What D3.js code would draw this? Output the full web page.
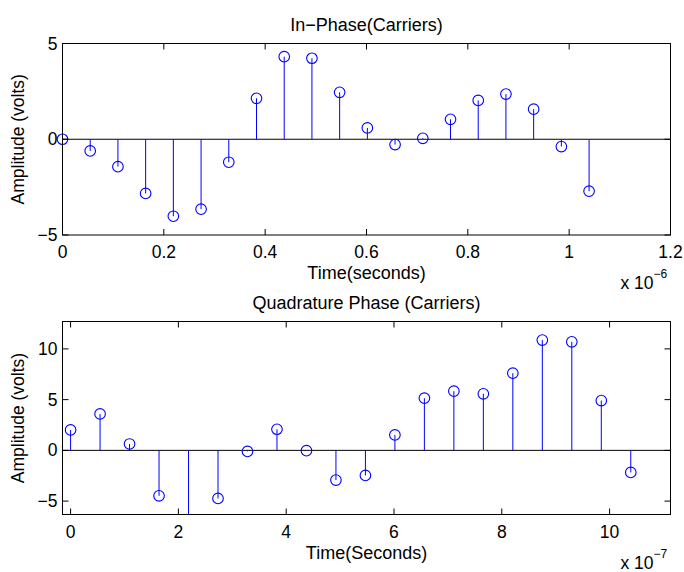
<!DOCTYPE html>
<html>
<head>
<meta charset="utf-8">
<title>In-Phase and Quadrature Phase Carriers</title>
<script src="https://d3js.org/d3.v7.min.js"></script>
<style>
  body { margin: 0; background: #fff; }
  text { font-family: "Liberation Sans", Arial, Helvetica, sans-serif; fill: #000; }
</style>
</head>
<body>
<div id="chart"></div>
<script>

// sample times in units of 1e-7 s (the top panel shows them in units of 1e-6 s)
var sampleTimes = [0, 0.547, 1.094, 1.641, 2.188, 2.735, 3.282, 3.829, 4.376, 4.923,
                   5.47, 6.017, 6.564, 7.111, 7.658, 8.205, 8.752, 9.299, 9.846, 10.393];

var inPhase = [0, -0.61, -1.43, -2.83, -4.02, -3.65, -1.2, 2.14, 4.31, 4.23,
               2.45, 0.59, -0.28, 0.05, 1.04, 2.03, 2.36, 1.57, -0.38, -2.71];

var quadrature = [2.01, 3.59, 0.63, -4.48, -7.5, -4.74, -0.1, 2.08, -0.03, -2.93,
                  -2.47, 1.52, 5.14, 5.83, 5.57, 7.61, 10.87, 10.7, 4.91, -2.17];

var topXTicks = [0, 0.2, 0.4, 0.6, 0.8, 1, 1.2];
var topYTicks = [-5, 0, 5];
var botXTicks = [0, 2, 4, 6, 8, 10];
var botYTicks = [-5, 0, 5, 10];

var W = 684, H = 572;
var blue = "#0000ff";

var svg = d3.select("#chart").append("svg")
    .attr("width", W)
    .attr("height", H);

svg.append("rect").attr("width", W).attr("height", H).attr("fill", "#fff");

function drawPanel(cfg) {
    var x = d3.scaleLinear().domain(cfg.xDomain).range([cfg.left, cfg.right]);
    var y = d3.scaleLinear().domain(cfg.yDomain).range([cfg.bottom, cfg.top]);
    var g = svg.append("g");

    var clipId = "clip" + cfg.id;
    svg.append("clipPath").attr("id", clipId)
        .append("rect")
        .attr("x", cfg.left).attr("y", cfg.top)
        .attr("width", cfg.right - cfg.left).attr("height", cfg.bottom - cfg.top);

    // zero baseline
    g.append("line")
        .attr("x1", cfg.left).attr("x2", cfg.right)
        .attr("y1", y(0)).attr("y2", y(0))
        .attr("stroke", "#000").attr("stroke-width", 1);

    var pts = cfg.xs.map(function(d, i) { return {x: d, y: cfg.ys[i]}; });

    // stems
    g.append("g").attr("clip-path", "url(#" + clipId + ")")
        .selectAll("line").data(pts).enter().append("line")
        .attr("x1", function(d) { return x(d.x); })
        .attr("x2", function(d) { return x(d.x); })
        .attr("y1", y(0))
        .attr("y2", function(d) { return y(d.y); })
        .attr("stroke", blue).attr("stroke-width", 1);

    // markers (only those inside the axes)
    g.selectAll("circle").data(pts.filter(function(d) {
            return d.y >= cfg.yDomain[0] && d.y <= cfg.yDomain[1];
        })).enter().append("circle")
        .attr("cx", function(d) { return x(d.x); })
        .attr("cy", function(d) { return y(d.y); })
        .attr("r", 5.3)
        .attr("fill", "none")
        .attr("stroke", blue).attr("stroke-width", 1.1);

    // box
    g.append("rect")
        .attr("x", cfg.left).attr("y", cfg.top)
        .attr("width", cfg.right - cfg.left).attr("height", cfg.bottom - cfg.top)
        .attr("fill", "none").attr("stroke", "#000").attr("stroke-width", 1);

    var tl = 6;
    // x ticks (bottom and top, inward)
    cfg.xTicks.forEach(function(t, i) {
        var px = x(t);
        g.append("line").attr("x1", px).attr("x2", px)
            .attr("y1", cfg.bottom).attr("y2", cfg.bottom - tl).attr("stroke", "#000");
        g.append("line").attr("x1", px).attr("x2", px)
            .attr("y1", cfg.top).attr("y2", cfg.top + tl).attr("stroke", "#000");
        g.append("text").attr("x", px).attr("y", cfg.bottom + 23)
            .attr("text-anchor", "middle")
            .style("font-size", "17.5px")
            .text(cfg.xTickLabels[i]);
    });
    // y ticks (left and right, inward)
    cfg.yTicks.forEach(function(t) {
        var py = y(t);
        g.append("line").attr("x1", cfg.left).attr("x2", cfg.left + tl)
            .attr("y1", py).attr("y2", py).attr("stroke", "#000");
        g.append("line").attr("x1", cfg.right).attr("x2", cfg.right - tl)
            .attr("y1", py).attr("y2", py).attr("stroke", "#000");
        g.append("text").attr("x", cfg.left - 5).attr("y", py + 6)
            .attr("text-anchor", "end")
            .style("font-size", "17.5px")
            .text(d3.format("")(t));
    });

    // title
    g.append("text")
        .attr("x", (cfg.left + cfg.right) / 2).attr("y", cfg.top - 13)
        .attr("text-anchor", "middle")
        .style("font-size", "18px")
        .text(cfg.title);

    // x label
    g.append("text")
        .attr("x", (cfg.left + cfg.right) / 2).attr("y", cfg.bottom + 44)
        .attr("text-anchor", "middle")
        .style("font-size", "18px")
        .text(cfg.xLabel);

    // y label
    g.append("text")
        .attr("transform", "translate(24," + ((cfg.top + cfg.bottom) / 2) + ") rotate(-90)")
        .attr("text-anchor", "middle")
        .style("font-size", "17.5px")
        .text("Amplitude (volts)");

    // exponent
    var ex = g.append("text")
        .attr("x", cfg.right - 50).attr("y", cfg.bottom + 54)
        .style("font-size", "17.5px");
    ex.append("tspan").text("x 10");
    ex.append("tspan").attr("dy", -11).style("font-size", "12px").text(cfg.exponent);
}

drawPanel({
    id: 1,
    left: 62.5, right: 670.5, top: 43.5, bottom: 235,
    xDomain: [0, 1.2], yDomain: [-5, 5],
    xs: sampleTimes.map(function(t) { return t / 10; }),
    ys: inPhase,
    xTicks: topXTicks,
    xTickLabels: topXTicks.map(function(t) { return String(t); }),
    yTicks: topYTicks,
    title: "In\u2212Phase(Carriers)",
    xLabel: "Time(seconds)",
    exponent: "\u22126"
});

drawPanel({
    id: 2,
    left: 62.5, right: 670.5, top: 321.5, bottom: 514.5,
    xDomain: [-0.15, 11.13], yDomain: [-6.32, 12.7],
    xs: sampleTimes,
    ys: quadrature,
    xTicks: botXTicks,
    xTickLabels: botXTicks.map(function(t) { return String(t); }),
    yTicks: botYTicks,
    title: "Quadrature Phase (Carriers)",
    xLabel: "Time(Seconds)",
    exponent: "\u22127"
});

</script>
</body>
</html>
